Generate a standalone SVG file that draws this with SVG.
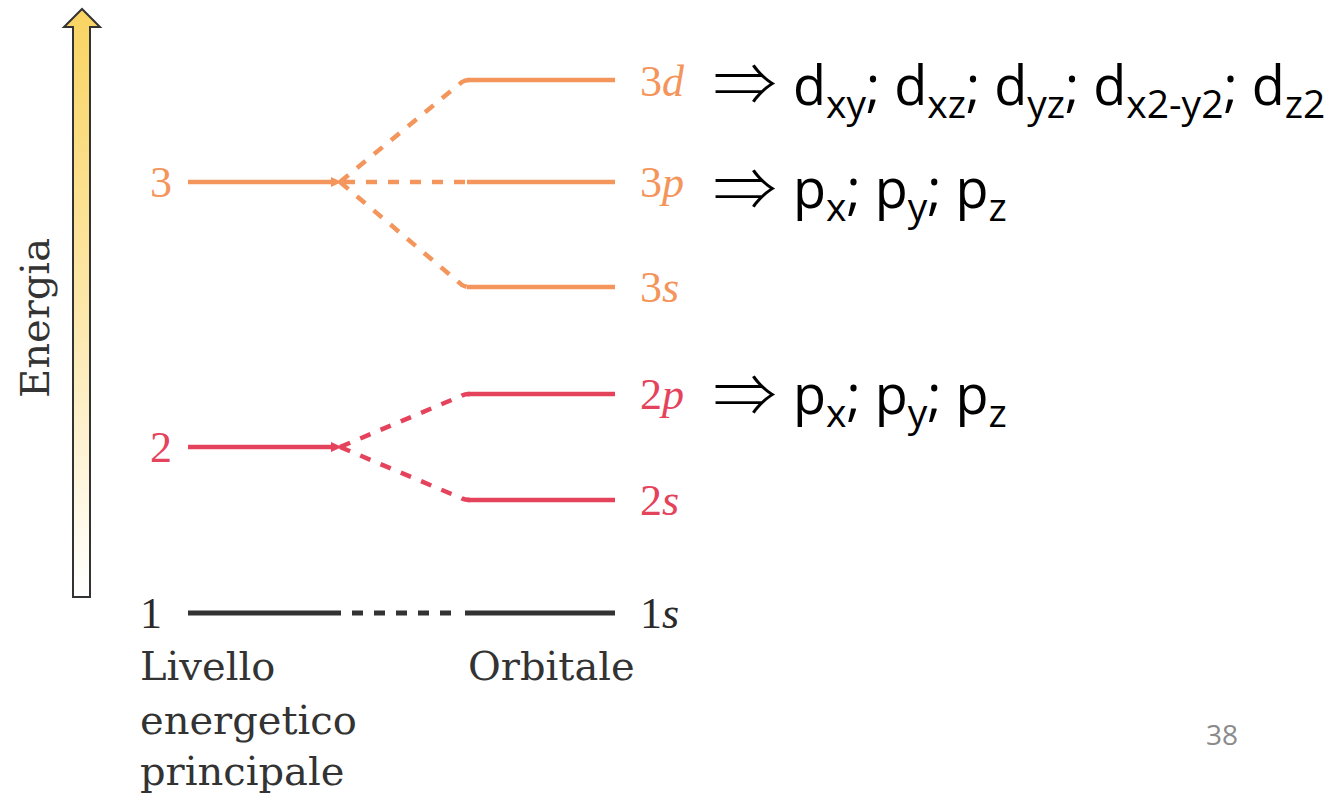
<svg xmlns="http://www.w3.org/2000/svg" width="1341" height="801" viewBox="0 0 1341 801">
<defs>
<linearGradient id="eg" x1="0" y1="0" x2="0" y2="1">
<stop offset="0" stop-color="#F9D462"/>
<stop offset="0.5" stop-color="#FCE7A8"/>
<stop offset="1" stop-color="#FFFFFF"/>
</linearGradient>
<style>
.w{font-family:"DejaVu Serif",serif;font-size:40px;fill:#333}
.m{font-family:"Liberation Serif",serif;font-size:44px}
.mi{font-style:italic}
.o{stroke:#F4955C;fill:none;stroke-width:4.5}
.r{stroke:#E5435C;fill:none;stroke-width:4.5}
.k{stroke:#333333;fill:none;stroke-width:5}
.d{stroke-dasharray:11 11}
.t{font-family:"Open Sans",sans-serif;font-size:54px;fill:#000}
.s{font-size:39px}
.ar{font-family:"Noto Sans CJK JP","DejaVu Sans",sans-serif;font-weight:300;font-size:58px;fill:#000}
</style>
</defs>
<rect width="1341" height="801" fill="#fff"/>
<g id="energy-axis">
<polygon points="73,597 73,27 64,27 82,9 100,27 90,27 90,597" fill="url(#eg)" stroke="#333" stroke-width="2" stroke-linejoin="miter"/>
<text class="w" text-anchor="middle" transform="translate(49,318) rotate(-90)">Energia</text>
</g>
<g id="connectors">
<path class="o d" d="M340,182 L462,82 Q465,80 470,80"/>
<path class="o d" d="M344,182 L465,182"/>
<path class="o d" d="M340,182 L462,285 Q465,287 470,287"/>
<path class="r d" d="M340,447 L461,396 Q464,394 470,394"/>
<path class="r d" d="M340,447 L461,498 Q464,500 470,500"/>
<path class="k d" d="M352,613 L462,613"/>
</g>
<g id="level-3">
<text class="m" x="150" y="197" fill="#F4955C">3</text>
<line class="o" x1="188" y1="182" x2="334" y2="182"/>
<polygon points="331,177 342,182 331,187" fill="#F4955C"/>
</g>
<g id="level-2">
<text class="m" x="150" y="462" fill="#E5435C">2</text>
<line class="r" x1="188" y1="447" x2="334" y2="447"/>
<polygon points="331,442 342,447 331,452" fill="#E5435C"/>
</g>
<g id="level-1">
<text class="m" x="140" y="628" fill="#2a2a2a">1</text>
<line class="k" x1="188" y1="613" x2="341" y2="613"/>
</g>
<g id="orbital-3d">
<line class="o" x1="467" y1="80" x2="615" y2="80"/>
<text class="m" x="640" y="96" fill="#F4955C">3<tspan class="mi">d</tspan></text>
</g>
<g id="orbital-3p">
<line class="o" x1="467" y1="182" x2="615" y2="182"/>
<text class="m" x="640" y="197" fill="#F4955C">3<tspan class="mi">p</tspan></text>
</g>
<g id="orbital-3s">
<line class="o" x1="467" y1="287" x2="615" y2="287"/>
<text class="m" x="640" y="302" fill="#F4955C">3<tspan class="mi">s</tspan></text>
</g>
<g id="orbital-2p">
<line class="r" x1="467" y1="394" x2="615" y2="394"/>
<text class="m" x="640" y="409" fill="#E5435C">2<tspan class="mi">p</tspan></text>
</g>
<g id="orbital-2s">
<line class="r" x1="467" y1="500" x2="615" y2="500"/>
<text class="m" x="640" y="515" fill="#E5435C">2<tspan class="mi">s</tspan></text>
</g>
<g id="orbital-1s">
<line class="k" x1="465" y1="613" x2="615" y2="613"/>
<text class="m" x="640" y="628" fill="#2a2a2a">1<tspan class="mi">s</tspan></text>
</g>
<g id="labels">
<text class="w" x="140" y="680">Livello</text>
<text class="w" x="140" y="734">energetico</text>
<text class="w" x="140" y="785">principale</text>
<text class="w" x="468" y="680">Orbitale</text>
</g>
<g id="d-orbitals">
<text class="ar" transform="translate(713,105) scale(1.1,1)">⇒</text>
<text class="t" x="793" y="105">d<tspan class="s" dy="13">xy</tspan><tspan dy="-13">; d</tspan><tspan class="s" dy="13">xz</tspan><tspan dy="-13">; d</tspan><tspan class="s" dy="13">yz</tspan><tspan dy="-13">; d</tspan><tspan class="s" dy="13">x2-y2</tspan><tspan dy="-13">; d</tspan><tspan class="s" dy="13">z2</tspan></text>
</g>
<g id="p-orbitals-3">
<text class="ar" transform="translate(713,210) scale(1.1,1)">⇒</text>
<text class="t" x="793" y="208">p<tspan class="s" dy="13">x</tspan><tspan dy="-13">; p</tspan><tspan class="s" dy="13">y</tspan><tspan dy="-13">; p</tspan><tspan class="s" dy="13">z</tspan></text>
</g>
<g id="p-orbitals-2">
<text class="ar" transform="translate(713,416) scale(1.1,1)">⇒</text>
<text class="t" x="793" y="414">p<tspan class="s" dy="13">x</tspan><tspan dy="-13">; p</tspan><tspan class="s" dy="13">y</tspan><tspan dy="-13">; p</tspan><tspan class="s" dy="13">z</tspan></text>
</g>
<g id="page-number">
<text x="1206" y="745" font-family="Open Sans, sans-serif" font-size="28" fill="#8a8a8a">38</text>
</g>
</svg>
